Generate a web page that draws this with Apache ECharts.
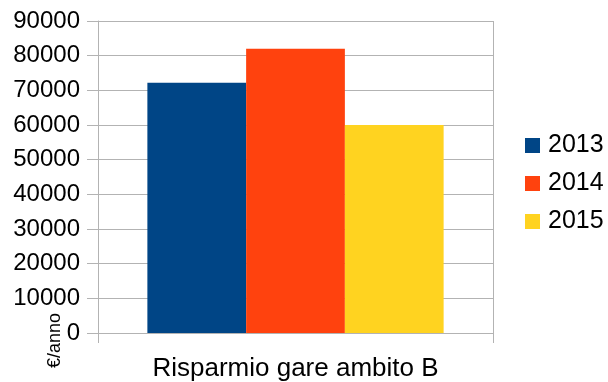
<!DOCTYPE html>
<html>
<head>
<meta charset="utf-8">
<script src="https://cdn.jsdelivr.net/npm/echarts@6/dist/echarts.min.js"></script>
<style>
  html, body { margin: 0; padding: 0; background: #fff; }
  #chart { width: 608px; height: 382px; }
</style>
</head>
<body>
<div id="chart"></div>
<script>
var categories = ['Risparmio gare ambito B'];
var seriesNames = ['2013', '2014', '2015'];
var values2013 = [72200];
var values2014 = [82000];
var values2015 = [60000];
var seriesColors = ['#004586', '#ff420e', '#ffd320'];

var chart = echarts.init(document.getElementById('chart'));
var fontFam = 'Liberation Sans, Arial, sans-serif';

var option = {
    animation: false,
    color: seriesColors,
    grid: {
        left: 98,
        right: 115,
        top: 21,
        bottom: 49
    },
    legend: {
        orient: 'vertical',
        left: 520,
        top: 128,
        itemWidth: 15,
        itemHeight: 15,
        itemGap: 13,
        icon: 'rect',
        textStyle: {
            fontFamily: fontFam,
            fontSize: 25,
            color: '#000',
            padding: [0, 0, 0, 3]
        },
        data: seriesNames
    },
    xAxis: {
        type: 'category',
        data: categories,
        axisLine: { lineStyle: { color: '#b3b3b3', width: 1 } },
        axisTick: { show: true, length: 10, lineStyle: { color: '#b3b3b3' } },
        splitLine: { show: true, lineStyle: { color: '#b3b3b3' } },
        axisLabel: {
            fontFamily: fontFam,
            fontSize: 26,
            color: '#000',
            margin: 23
        }
    },
    yAxis: {
        type: 'value',
        min: 0,
        max: 90000,
        interval: 10000,
        axisLine: { show: true, lineStyle: { color: '#b3b3b3' } },
        axisTick: { show: true, length: 11, lineStyle: { color: '#b3b3b3' } },
        splitLine: { lineStyle: { color: '#b3b3b3' } },
        axisLabel: {
            fontFamily: fontFam,
            fontSize: 24,
            color: '#000',
            margin: 18,
            formatter: function (v) { return String(v); }
        }
    },
    graphic: [{
        type: 'text',
        left: 46,
        top: 313,
        rotation: Math.PI / 2,
        style: {
            text: '€/anno',
            fontFamily: fontFam,
            fontSize: 18,
            fill: '#000'
        }
    }],
    series: [
        { name: seriesNames[0], type: 'bar', data: values2013, barGap: '0%', barCategoryGap: '25%' },
        { name: seriesNames[1], type: 'bar', data: values2014, barGap: '0%', barCategoryGap: '25%' },
        { name: seriesNames[2], type: 'bar', data: values2015, barGap: '0%', barCategoryGap: '25%' }
    ]
};
chart.setOption(option);
</script>
</body>
</html>
